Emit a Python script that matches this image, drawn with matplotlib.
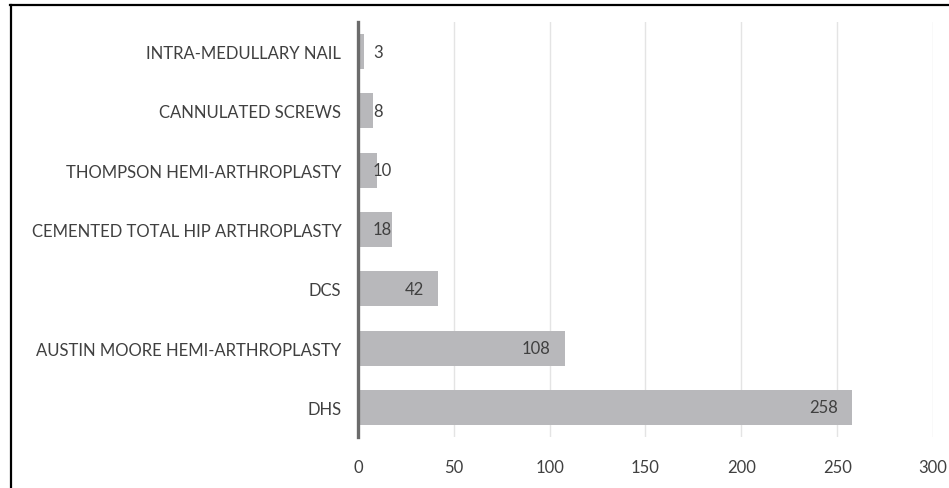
import matplotlib
matplotlib.use("Agg")
import matplotlib.pyplot as plt
from matplotlib.lines import Line2D

categories = ["INTRA-MEDULLARY NAIL", "CANNULATED SCREWS", "THOMPSON HEMI-ARTHROPLASTY",
              "CEMENTED TOTAL HIP ARTHROPLASTY", "DCS", "AUSTIN MOORE HEMI-ARTHROPLASTY", "DHS"]
counts = [3, 8, 10, 18, 42, 108, 258]
x_ticks = [0, 50, 100, 150, 200, 250, 300]

plt.rcParams['font.family'] = ['Lato', 'DejaVu Sans']
text_color = "#404040"
fs = 12

fig = plt.figure(figsize=(9.49, 4.89), dpi=100)
ax = fig.add_axes([0.3772, 0.1043, 0.6059, 0.8487])

pos = list(range(len(categories)))
ax.barh(pos, counts, height=0.59, color="#b8b8bb", zorder=2)

ax.set_xlim(0, 300)
ax.set_ylim(6.5, -0.5)
ax.set_xticks(x_ticks)
ax.set_yticks(pos)
ax.set_yticklabels(categories)
ax.tick_params(axis="y", length=0, pad=12, labelsize=fs, labelcolor=text_color)
ax.tick_params(axis="x", length=0, pad=16, labelsize=fs, labelcolor=text_color)
ax.grid(axis="x", color="#e4e4e4", linewidth=1, zorder=0)

for side in ["top", "right", "bottom"]:
    ax.spines[side].set_visible(False)
ax.spines["left"].set_color("#6b6b6b")
ax.spines["left"].set_linewidth(2.4)
ax.spines["left"].set_zorder(3)

# value labels: inside end, pushed out to a minimum position for short bars
px_per_unit = ax.get_window_extent().width / 300.0
for p, v in zip(pos, counts):
    w = len(str(v)) * 8.2 / px_per_unit
    right = v - 14 / px_per_unit
    left_min = 15 / px_per_unit
    if right - w < left_min:
        ax.text(left_min, p, str(v), ha="left", va="center", fontsize=fs, color=text_color, zorder=4)
    else:
        ax.text(right, p, str(v), ha="right", va="center", fontsize=fs, color=text_color, zorder=4)

# frame lines on the left and top of the figure
fig.add_artist(Line2D([10.5 / 949, 10.5 / 949], [0, 1 - 6 / 489], transform=fig.transFigure, color="black", linewidth=1.6))
fig.add_artist(Line2D([10 / 949, 1], [1 - 6 / 489, 1 - 6 / 489], transform=fig.transFigure, color="black", linewidth=1.6))

fig.savefig("out.png", dpi=100)
